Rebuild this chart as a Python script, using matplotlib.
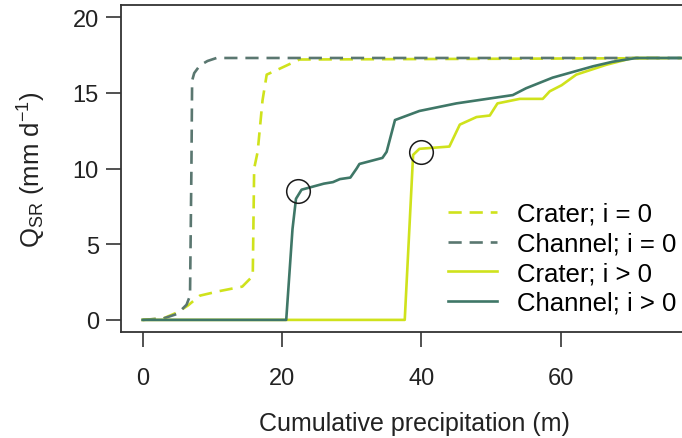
import matplotlib.pyplot as plt

plt.rcParams['font.family'] = ['Liberation Sans', 'DejaVu Sans']
plt.rcParams['mathtext.fontset'] = 'custom'
plt.rcParams['mathtext.rm'] = 'Liberation Sans'
plt.rcParams['mathtext.it'] = 'Liberation Sans'

# series (x = cumulative precipitation in m, y = Q_SR in mm/d)
chan0_x = [0, 3, 5, 6.3, 6.8, 7.0, 7.1, 7.4, 8.2, 9.3, 10.6, 81]
chan0_y = [0, 0.1, 0.4, 1.0, 1.6, 10.0, 15.8, 16.3, 16.8, 17.1, 17.3, 17.3]

crat0_x = [0, 3, 5, 6.5, 8.2, 11, 14.3, 15.8, 16.0, 16.5, 17.2, 17.8, 19.7, 22.5, 81]
crat0_y = [0, 0.1, 0.5, 0.95, 1.6, 1.9, 2.2, 2.9, 10.0, 11.1, 14.5, 16.2, 16.6, 17.2, 17.3]

chan1_x = [0, 20.6, 21.5, 22.0, 22.8, 24.4, 26.0, 27.3, 28.3, 29.8, 30.7, 31.1,
           34.4, 35.0, 36.2, 39.7, 45.0, 53.1, 55.0, 58.8, 64.6, 67.4, 70.8, 81]
chan1_y = [0, 0, 6.0, 8.0, 8.6, 8.8, 9.0, 9.1, 9.3, 9.4, 10.0, 10.3,
           10.7, 11.1, 13.2, 13.8, 14.3, 14.85, 15.3, 16.0, 16.75, 17.05, 17.3, 17.3]

crat1_x = [0, 37.6, 38.8, 39.7, 44.0, 45.5, 47.9, 49.8, 50.9, 54.1, 57.4, 58.4,
           60.1, 62.2, 66.5, 70.3, 73.7]
crat1_y = [0, 0, 10.9, 11.3, 11.45, 12.9, 13.4, 13.5, 14.3, 14.6, 14.6, 15.1,
           15.5, 16.2, 16.85, 17.3, 17.3]

circle_x = [22.3, 40.0]
circle_y = [8.5, 11.1]

lime = '#cfe21c'
teal = '#3f7767'
grey_teal = '#5a7770'

fig = plt.figure(figsize=(6.82, 4.39), dpi=100)
ax = fig.add_axes([121 / 682, 106 / 439, (708 - 121) / 682, (333 - 6) / 439])

ax.plot(crat0_x, crat0_y, color=lime, lw=1.9, dashes=(5, 3), label='Crater; i = 0')
ax.plot(chan0_x, chan0_y, color=grey_teal, lw=1.9, dashes=(5, 3), label='Channel; i = 0')
ax.plot(crat1_x, crat1_y, color=lime, lw=1.9, label='Crater; i > 0')
ax.plot(chan1_x, chan1_y, color=teal, lw=1.9, label='Channel; i > 0')
ax.plot(circle_x, circle_y, 'o', ms=17, mfc='none', mec='#1a1a1a', mew=1.1)

ax.set_xlim(-3.1, 81.1)
ax.set_ylim(-0.8, 20.8)
ax.set_xticks([0, 20, 40, 60])
ax.set_yticks([0, 5, 10, 15, 20])
ax.tick_params(axis='x', length=11, width=1.1, pad=14, labelsize=17, colors='#222222')
ax.tick_params(axis='y', length=11, width=1.1, pad=5, labelsize=17, colors='#222222')
for s in ax.spines.values():
    s.set_linewidth(1.3)
    s.set_color('#333333')

ax.set_xlabel('Cumulative precipitation (m)', fontsize=18, labelpad=16, color='#222222')
ax.set_ylabel(r'Q$_{\mathrm{SR}}$ (mm d$^{-1}$)', fontsize=18.5, labelpad=18, color='#222222')

ax.legend(loc='upper left', bbox_to_anchor=(0.557, 0.398), frameon=False,
          fontsize=18.5, handlelength=1.9, handletextpad=0.8, labelspacing=0.22,
          borderaxespad=0, borderpad=0)

fig.savefig('out.png', dpi=100)
